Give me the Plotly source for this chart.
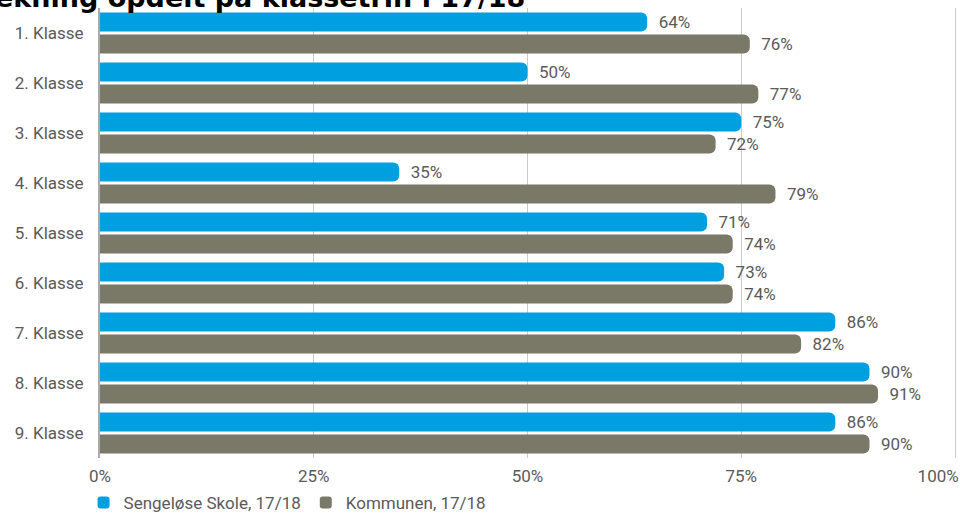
import plotly.graph_objects as go

categories = ["1. Klasse", "2. Klasse", "3. Klasse", "4. Klasse", "5. Klasse",
              "6. Klasse", "7. Klasse", "8. Klasse", "9. Klasse"]
sengeloese = [64, 50, 75, 35, 71, 73, 86, 90, 86]
kommunen = [76, 77, 72, 79, 74, 74, 82, 91, 90]
series_names = ["Sengeløse Skole, 17/18", "Kommunen, 17/18"]
x_ticks = [0, 25, 50, 75, 100]
x_tick_labels = ["0%", "25%", "50%", "75%", "100%" + "\u00a0" * 8]
title_text = "ekning opdelt på klassetrin i 17/18"

BLUE = "#009FE0"
GREY = "#7A7866"
FONT = "Roboto"
TXT = "#5A5A5A"

W, H = 960, 514
ML, MR, MT, MB = 100, 3, 8, 56
PLOT_W = W - ML - MR
PLOT_H = H - MT - MB
X_MAX = 100 * PLOT_W / 855  # so that 100% lands 2px inside the plot edge

fig = go.Figure()
for name, vals, col in [(series_names[0], sengeloese, BLUE), (series_names[1], kommunen, GREY)]:
    fig.add_trace(go.Bar(
        y=categories, x=vals, name=name, orientation="h",
        marker=dict(color=col, cornerradius=6, line=dict(width=0)),
        text=[f"{v}%" for v in vals], texttemplate="  %{text}",
        textposition="outside", cliponaxis=False, constraintext="none",
        textfont=dict(family=FONT, size=17, color=TXT),
        hoverinfo="skip",
    ))

fig.update_layout(
    width=W, height=H,
    margin=dict(l=ML, r=MR, t=MT, b=MB, autoexpand=False),
    paper_bgcolor="white", plot_bgcolor="white",
    barmode="group", bargap=0.12, bargroupgap=0.13,
    font=dict(family=FONT, size=17, color=TXT),
    showlegend=True,
    legend=dict(orientation="h", x=-0.025 + 5 / PLOT_W, xanchor="left",
                y=-45 / PLOT_H, yanchor="middle",
                font=dict(family=FONT, size=17, color=TXT),
                traceorder="normal"),
    xaxis=dict(range=[0, X_MAX], tickvals=x_ticks, ticktext=x_tick_labels,
               showgrid=True, gridcolor="#CCCCCC", gridwidth=1, zeroline=False,
               showline=False, ticks="outside", ticklen=3, tickcolor="rgba(0,0,0,0)",
               tickfont=dict(family=FONT, size=17, color=TXT), fixedrange=True,
               automargin=False, ticklabeloverflow="allow"),
    yaxis=dict(autorange="reversed", showgrid=False, zeroline=False,
               showline=True, linecolor="#AAAAAA", linewidth=2,
               ticks="outside", ticklen=11, tickcolor="rgba(0,0,0,0)",
               tickfont=dict(family=FONT, size=17, color=TXT), fixedrange=True,
               automargin=False),
    annotations=[dict(text="<b>" + title_text + "</b>", xref="paper", yref="paper",
                      x=(527 - ML) / PLOT_W, xanchor="right",
                      y=1 - 7 / PLOT_H, yanchor="bottom", showarrow=False,
                      font=dict(family="DejaVu Sans", size=27, color="#000000"),
                      )],
)

fig.write_html("out.html",
               config={"displayModeBar": False},
               post_script="document.body.style.margin='0';document.body.style.overflow='hidden';")
